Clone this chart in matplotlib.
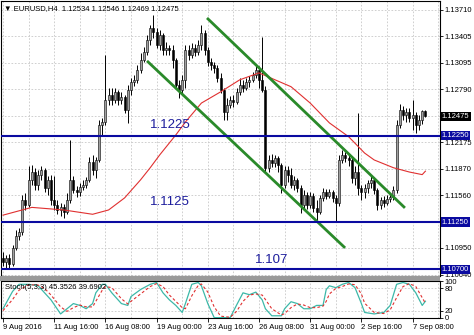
import matplotlib
matplotlib.use('Agg')
import matplotlib.pyplot as plt
from matplotlib.transforms import blended_transform_factory
from matplotlib.patches import Rectangle
import numpy as np

plt.rcParams['font.family'] = ['Liberation Sans', 'DejaVu Sans']

# ---------------- data ----------------
opens = [1.1083,1.1079,1.1083,1.1076,1.1095,1.1109,1.1113,1.1151,1.1145,1.1174,
         1.1183,1.1168,1.1180,1.1185,1.1165,1.1174,1.1151,1.1145,1.1139,1.1142,
         1.1137,1.1151,1.1174,1.1162,1.1160,1.1166,1.1168,1.1174,1.1195,1.1185,
         1.1197,1.1238,1.1241,1.1267,1.1272,1.1267,1.1276,1.1267,1.1270,1.1255,
         1.1278,1.1287,1.1290,1.1301,1.1313,1.1322,1.1336,1.1350,1.1345,1.1330,
         1.1342,1.1325,1.1327,1.1325,1.1313,1.1284,1.1278,1.1290,1.1325,1.1319,
         1.1327,1.1322,1.1330,1.1344,1.1325,1.1311,1.1307,1.1304,1.1292,1.1278,
         1.1253,1.1261,1.1267,1.1264,1.1276,1.1284,1.1281,1.1287,1.1290,1.1296,
         1.1301,1.1290,1.1278,1.1188,1.1197,1.1194,1.1199,1.1191,1.1168,1.1185,
         1.1180,1.1168,1.1174,1.1165,1.1145,1.1156,1.1145,1.1155,1.1141,1.1137,
         1.1153,1.1160,1.1155,1.1160,1.1153,1.1147,1.1197,1.1203,1.1199,1.1197,
         1.1176,1.1183,1.1165,1.1160,1.1165,1.1170,1.1174,1.1162,1.1145,1.1151,
         1.1147,1.1152,1.1154,1.1162,1.1238,1.1255,1.1249,1.1253,1.1246,1.1249,
         1.1238,1.1243,1.12534]
closes = [1.1079,1.1083,1.1076,1.1095,1.1109,1.1113,1.1151,1.1145,1.1174,1.1183,
          1.1168,1.1180,1.1185,1.1165,1.1174,1.1151,1.1145,1.1139,1.1142,1.1137,
          1.1151,1.1174,1.1162,1.1160,1.1166,1.1168,1.1174,1.1195,1.1185,1.1197,
          1.1238,1.1241,1.1267,1.1272,1.1267,1.1276,1.1267,1.1270,1.1255,1.1278,
          1.1287,1.1290,1.1301,1.1313,1.1322,1.1336,1.1350,1.1345,1.1330,1.1342,
          1.1325,1.1327,1.1325,1.1313,1.1284,1.1278,1.1290,1.1325,1.1319,1.1327,
          1.1322,1.1330,1.1344,1.1325,1.1311,1.1307,1.1304,1.1292,1.1278,1.1253,
          1.1261,1.1267,1.1264,1.1276,1.1284,1.1281,1.1287,1.1290,1.1296,1.1301,
          1.1290,1.1278,1.1188,1.1197,1.1194,1.1199,1.1191,1.1168,1.1185,1.1180,
          1.1168,1.1174,1.1165,1.1145,1.1156,1.1145,1.1155,1.1141,1.1137,1.1153,
          1.1160,1.1155,1.1160,1.1153,1.1147,1.1197,1.1203,1.1199,1.1197,1.1176,
          1.1183,1.1165,1.1160,1.1165,1.1170,1.1174,1.1162,1.1145,1.1151,1.1147,
          1.1152,1.1154,1.1162,1.1238,1.1255,1.1249,1.1253,1.1246,1.1249,1.1238,
          1.1243,1.12534,1.12475]
highs = [1.1090,1.1087,1.1088,1.1098,1.1116,1.1118,1.1156,1.1159,1.1190,1.1191,
         1.1188,1.1185,1.1190,1.1188,1.1178,1.1180,1.1178,1.1151,1.1147,1.1146,
         1.1159,1.1220,1.1178,1.1167,1.1170,1.1174,1.1177,1.1200,1.1203,1.1200,
         1.1243,1.1246,1.1319,1.1281,1.1281,1.1281,1.1278,1.1276,1.1272,1.1284,
         1.1292,1.1296,1.1307,1.1321,1.1328,1.1342,1.1354,1.1365,1.1350,1.1348,
         1.1344,1.1334,1.1330,1.1330,1.1315,1.1290,1.1296,1.1330,1.1330,1.1333,
         1.1332,1.1336,1.1354,1.1348,1.1328,1.1315,1.1311,1.1307,1.1298,1.1281,
         1.1269,1.1271,1.1272,1.1281,1.1292,1.1290,1.1292,1.1294,1.1299,1.1306,
         1.1306,1.1340,1.1283,1.1203,1.1204,1.1203,1.1202,1.1194,1.1190,1.1190,
         1.1188,1.1178,1.1176,1.1168,1.1162,1.1160,1.1160,1.1159,1.1151,1.1156,
         1.1165,1.1163,1.1163,1.1162,1.1156,1.1203,1.1209,1.1206,1.1204,1.1202,
         1.1190,1.1251,1.1168,1.1169,1.1174,1.1180,1.1177,1.1165,1.1154,1.1155,
         1.1156,1.1159,1.1167,1.1243,1.1262,1.1260,1.1257,1.1257,1.1267,1.1253,
         1.1249,1.1255,1.12546]
lows = [1.1074,1.1072,1.1072,1.1074,1.1093,1.1104,1.1110,1.1139,1.1142,1.1168,
        1.1162,1.1162,1.1174,1.1160,1.1156,1.1145,1.1139,1.1134,1.1132,1.1130,
        1.1134,1.1147,1.1159,1.1154,1.1155,1.1162,1.1165,1.1171,1.1180,1.1176,
        1.1195,1.1226,1.1238,1.1261,1.1261,1.1263,1.1261,1.1262,1.1251,1.1240,
        1.1272,1.1283,1.1286,1.1298,1.1311,1.1319,1.1330,1.1339,1.1327,1.1325,
        1.1319,1.1319,1.1319,1.1304,1.1281,1.1269,1.1275,1.1281,1.1313,1.1315,
        1.1318,1.1319,1.1325,1.1319,1.1306,1.1301,1.1298,1.1287,1.1275,1.1243,
        1.1243,1.1257,1.1258,1.1262,1.1272,1.1276,1.1278,1.1282,1.1287,1.1292,
        1.1281,1.1276,1.1183,1.1183,1.1189,1.1189,1.1183,1.1159,1.1165,1.1171,
        1.1165,1.1162,1.1160,1.1136,1.1141,1.1140,1.1141,1.1137,1.1127,1.1134,
        1.1149,1.1152,1.1153,1.1148,1.1126,1.1144,1.1194,1.1195,1.1190,1.1170,
        1.1168,1.1156,1.1151,1.1153,1.1159,1.1165,1.1158,1.1139,1.1140,1.1142,
        1.1145,1.1148,1.1151,1.1159,1.1234,1.1243,1.1241,1.1241,1.1232,1.1228,
        1.1232,1.1239,1.12469]

# moving average (red)
ma_bars = [0, 9, 19, 28, 33, 38, 43, 46, 49, 54, 57, 62, 68, 74, 80, 85, 90, 96,
           102, 108, 113, 116, 122, 127, 131, 132]
ma_vals = [1.1133, 1.1142, 1.1139, 1.1134, 1.1139, 1.1153, 1.1174, 1.1188, 1.1203,
           1.1226, 1.1241, 1.1263, 1.1276, 1.1290, 1.1298, 1.1290, 1.1282, 1.1263,
           1.1240, 1.1224, 1.1205, 1.1197, 1.1188, 1.1183, 1.1180, 1.1184]

# trend channel (green)
chan_upper_bars = [63.75, 125.6]
chan_upper_vals = [1.13617, 1.11414]
chan_lower_bars = [45.0, 106.9]
chan_lower_vals = [1.13119, 1.10950]

# horizontal levels (blue)
levels = [1.1225, 1.1125, 1.1070]
level_labels = ['1.12250', '1.11250', '1.10700']
level_texts = ['1.1225', '1.1125', '1.107']
level_text_bars = [46, 46, 78.7]
level_text_vals = [1.12376, 1.11483, 1.10810]

# stochastic
st_main_bars = [0, 3, 5, 8, 11, 13, 15, 18, 20, 22, 24, 26, 28, 29, 31, 32, 34, 37, 39, 40,
                43, 46, 48, 50, 52, 54, 56, 57, 59, 61, 62, 64, 66, 68, 71, 73, 75, 77, 79,
                81, 82, 84, 87, 88, 90, 92, 94, 96, 98, 100, 101, 102, 104, 106, 108, 110,
                112, 113, 116, 119, 121, 123, 125, 127, 129, 131, 132]
st_main_vals = [25, 72, 91, 91, 87, 68, 49, 11, 25, 39, 34, 25, 39, 68, 91, 91, 68, 39, 34, 58,
                77, 91, 96, 68, 49, 34, 15, 39, 91, 96, 87, 39, 1, 1, 1, 35, 68, 63, 70,
                49, 25, 6, 6, 25, 44, 39, 25, 25, 34, 34, 77, 87, 82, 91, 96, 82,
                39, 15, 11, 15, 34, 91, 96, 91, 68, 34, 45.35]
st_sig_vals = [20, 50, 75, 90, 89, 80, 62, 30, 18, 28, 35, 30, 30, 45, 75, 85, 82, 52, 38, 45,
               65, 85, 93, 85, 62, 45, 28, 25, 60, 88, 92, 70, 30, 5, 2, 18, 45, 62, 65,
               62, 50, 25, 8, 12, 28, 38, 35, 28, 28, 32, 45, 65, 80, 85, 92, 90,
               65, 40, 15, 12, 22, 55, 85, 93, 85, 55, 39.69]

x_tick_bars = [0, 16, 32, 48, 64, 80, 96, 112, 128]
x_tick_labels = ['9 Aug 2016', '11 Aug 16:00', '16 Aug 08:00', '19 Aug 00:00',
                 '23 Aug 16:00', '26 Aug 08:00', '31 Aug 00:00', '2 Sep 16:00',
                 '7 Sep 08:00']
y_ticks = [1.13710, 1.13405, 1.13095, 1.12790, 1.12480, 1.12175, 1.11870,
           1.11560, 1.11255, 1.10950, 1.10640]
y_tick_labels = ['1.13710', '1.13405', '1.13095', '1.12790', '', '1.12175', '1.11870',
                 '1.11560', '', '1.10950', '1.10640']

title = '\u25BC EURUSD,H4  1.12534 1.12546 1.12469 1.12475'
stoch_title = 'Stoch(5,3,3) 45.3526 39.6902'

# ---------------- figure ----------------
W, H = 474, 335
fig = plt.figure(figsize=(W / 100, H / 100), dpi=100)
fig.patch.set_facecolor('white')

def fx(px):
    return px / W

def fy(py):
    return 1 - py / H

ax = fig.add_axes([fx(1), fy(276), fx(440) - fx(1), fy(1) - fy(276)])
ax2 = fig.add_axes([fx(1), fy(318), fx(440) - fx(1), fy(281) - fy(318)], sharex=ax)

# separator
fig.patches.append(Rectangle((fx(0), fy(281)), fx(440), fy(276) - fy(281),
                             transform=fig.transFigure, facecolor='#9a9a9a',
                             edgecolor='none', zorder=0))

grid_kw = dict(color='#c8c8c8', lw=0.6, ls=(0, (2, 2)), zorder=0)
LS = 5.5  # label font size

n = len(closes)
bars = np.arange(n)
o = np.array(opens); c = np.array(closes); h = np.array(highs); l = np.array(lows)

ax.set_xlim(-0.625, 136.56)
ax.set_ylim(1.10624, 1.13814)

for yv in y_ticks:
    ax.axhline(yv, **grid_kw)
for xb in range(0, 137, 8):
    ax.axvline(xb, **grid_kw)
    ax2.axvline(xb, **grid_kw)

# candles
ax.vlines(bars, l, h, color='black', lw=0.7, zorder=3)
up = c >= o
bottoms = np.minimum(o, c)
heights = np.maximum(np.abs(c - o), 0.00004)
ax.bar(bars[up], heights[up], bottom=bottoms[up], width=0.66,
       facecolor='#a0a0a0', edgecolor='black', lw=0.4, zorder=4)
ax.bar(bars[~up], heights[~up], bottom=bottoms[~up], width=0.66,
       facecolor='black', edgecolor='black', lw=0.4, zorder=4)

# MA
ax.plot(ma_bars, ma_vals, color='#e03030', lw=0.8, zorder=5)

# channel
ax.plot(chan_upper_bars, chan_upper_vals, color='#2a8a2a', lw=2.0, zorder=6,
        solid_capstyle='butt')
ax.plot(chan_lower_bars, chan_lower_vals, color='#2a8a2a', lw=2.0, zorder=6,
        solid_capstyle='butt')

# levels
for lv in levels:
    ax.axhline(lv, color='#0a0aa0', lw=1.5, zorder=6)
for t, xb, yv in zip(level_texts, level_text_bars, level_text_vals):
    ax.text(xb, yv, t, color='#1c1c9c', fontsize=9.5, ha='left', va='center', zorder=7)

# title
ax.text(0.006, 0.985, title, transform=ax.transAxes, fontsize=LS, ha='left', va='top',
        color='black', zorder=8)

# right axis
ax.yaxis.tick_right()
ax.set_yticks(y_ticks)
ax.set_yticklabels(y_tick_labels)
ax.tick_params(axis='y', labelsize=LS, length=2, pad=1.5, width=0.6, colors='black')
ax.tick_params(axis='x', bottom=False, labelbottom=False)

bt = blended_transform_factory(ax.transAxes, ax.transData)
box_pad = 'square,pad=0.15'
ax.text(1.004, 1.12475, '1.12475', transform=bt, fontsize=LS, color='white', ha='left',
        va='center', clip_on=False, zorder=10,
        bbox=dict(boxstyle=box_pad, fc='black', ec='none'))
for lv, lab in zip(levels, level_labels):
    ax.text(1.004, lv, lab, transform=bt, fontsize=LS, color='white', ha='left',
            va='center', clip_on=False, zorder=10,
            bbox=dict(boxstyle=box_pad, fc='#0a0aa0', ec='none'))

for sp in ax.spines.values():
    sp.set_color('black'); sp.set_linewidth(0.8)

# stochastic
ax2.set_ylim(0, 100)
for yv in [20, 80]:
    ax2.axhline(yv, **grid_kw)
ax2.plot(st_main_bars, st_main_vals, color='#3cb8a8', lw=0.9, zorder=4)
ax2.plot(st_main_bars, st_sig_vals, color='#e03030', lw=0.8, ls=(0, (2.5, 2)), zorder=4)
ax2.text(0.01, 0.93, stoch_title, transform=ax2.transAxes, fontsize=LS, ha='left',
         va='top', zorder=8)
ax2.yaxis.tick_right()
ax2.set_yticks([100, 80, 20, 0])
ax2.set_yticklabels(['100', '80', '20', '0'])
ax2.tick_params(axis='y', labelsize=LS, length=2, pad=1.5, width=0.6)
ax2.set_xticks(x_tick_bars)
ax2.set_xticklabels(x_tick_labels)
for lab in ax2.get_xticklabels():
    lab.set_horizontalalignment('left')
ax2.tick_params(axis='x', labelsize=LS, length=3, pad=1.5, width=0.6)
for sp in ax2.spines.values():
    sp.set_color('black'); sp.set_linewidth(0.8)

fig.savefig('out.png', dpi=100)
